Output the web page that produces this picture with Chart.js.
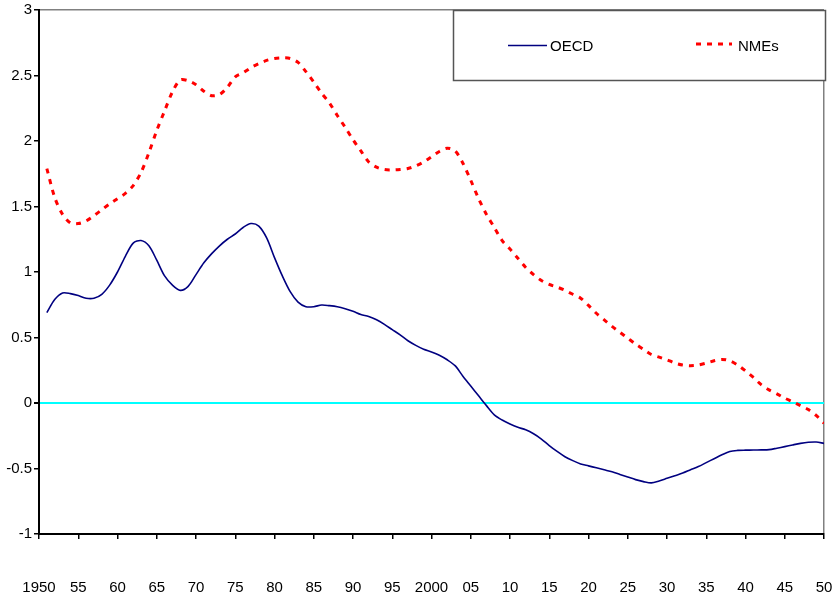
<!DOCTYPE html>
<html>
<head>
<meta charset="utf-8">
<script src="https://cdn.jsdelivr.net/npm/chart.js@4/dist/chart.umd.min.js"></script>
<style>
  html, body { margin: 0; padding: 0; background: #fff; }
  #wrap { width: 834px; height: 601px; }
</style>
</head>
<body>
<div id="wrap"><canvas id="chart" width="834" height="601"></canvas></div>
<script>
// years on the x axis
var years = [
  1951, 1952, 1953, 1954, 1955, 1956, 1957, 1958, 1959, 1960,
  1961, 1962, 1963, 1964, 1965, 1966, 1967, 1968, 1969, 1970,
  1971, 1972, 1973, 1974, 1975, 1976, 1977, 1978, 1979, 1980,
  1981, 1982, 1983, 1984, 1985, 1986, 1987, 1988, 1989, 1990,
  1991, 1992, 1993, 1994, 1995, 1996, 1997, 1998, 1999, 2000,
  2001, 2002, 2003, 2004, 2005, 2006, 2007, 2008, 2009, 2010,
  2011, 2012, 2013, 2014, 2015, 2016, 2017, 2018, 2019, 2020,
  2021, 2022, 2023, 2024, 2025, 2026, 2027, 2028, 2029, 2030,
  2031, 2032, 2033, 2034, 2035, 2036, 2037, 2038, 2039, 2040,
  2041, 2042, 2043, 2044, 2045, 2046, 2047, 2048, 2049, 2050
];

var oecdValues = [
  0.69, 0.79, 0.84, 0.835, 0.82, 0.80, 0.80, 0.83, 0.90, 1.00,
  1.12, 1.22, 1.24, 1.20, 1.09, 0.97, 0.90, 0.86, 0.89, 0.98,
  1.07, 1.14, 1.20, 1.25, 1.29, 1.34, 1.37, 1.35, 1.26, 1.11,
  0.97, 0.85, 0.77, 0.735, 0.735, 0.748, 0.743, 0.735, 0.72, 0.70,
  0.675, 0.66, 0.635, 0.60, 0.56, 0.52, 0.475, 0.44, 0.41, 0.39,
  0.365, 0.33, 0.285, 0.205, 0.13, 0.055, -0.02, -0.09, -0.13, -0.16,
  -0.185, -0.205, -0.235, -0.275, -0.325, -0.37, -0.41, -0.44, -0.465, -0.48,
  -0.495, -0.51, -0.525, -0.545, -0.565, -0.585, -0.60, -0.61, -0.595, -0.575,
  -0.555, -0.535, -0.51, -0.485, -0.455, -0.425, -0.395, -0.37, -0.362, -0.36,
  -0.359, -0.358, -0.356, -0.345, -0.333, -0.32, -0.308, -0.30, -0.298, -0.308
];

var nmeValues = [
  1.79, 1.57, 1.44, 1.375, 1.37, 1.39, 1.43, 1.475, 1.52, 1.56,
  1.60, 1.66, 1.76, 1.91, 2.08, 2.23, 2.375, 2.466, 2.46, 2.43,
  2.38, 2.346, 2.355, 2.41, 2.49, 2.52, 2.56, 2.59, 2.615, 2.63,
  2.635, 2.63, 2.60, 2.53, 2.45, 2.365, 2.29, 2.195, 2.105, 2.01,
  1.925, 1.84, 1.80, 1.782, 1.779, 1.782, 1.79, 1.81, 1.84, 1.88,
  1.92, 1.945, 1.925, 1.83, 1.70, 1.56, 1.44, 1.34, 1.24, 1.175,
  1.105, 1.035, 0.98, 0.935, 0.905, 0.885, 0.86, 0.83, 0.80, 0.745,
  0.685, 0.635, 0.585, 0.54, 0.495, 0.45, 0.41, 0.37, 0.35, 0.33,
  0.305, 0.29, 0.285, 0.29, 0.305, 0.322, 0.333, 0.322, 0.29, 0.245,
  0.195, 0.14, 0.10, 0.07, 0.037, 0.01, -0.02, -0.05, -0.095, -0.155
];

var xTickLabels = ['1950', '55', '60', '65', '70', '75', '80', '85', '90', '95',
  '2000', '05', '10', '15', '20', '25', '30', '35', '40', '45', '50'];
var yTickLabels = ['-1', '-0.5', '0', '0.5', '1', '1.5', '2', '2.5', '3'];

function toPoints(vals) {
  return years.map(function (yr, i) { return { x: yr, y: vals[i] }; });
}

var axisFont = { family: 'Liberation Sans, Arial, sans-serif', size: 15 };

// legend drawn in its own framed box, top right
var boxLegend = {
  id: 'boxLegend',
  afterDatasetsDraw: function (chart) {
    var c = chart.ctx;
    var ds = chart.data.datasets;
    c.save();
    c.fillStyle = '#fff';
    c.fillRect(453, 10, 373, 71);
    c.strokeStyle = '#555';
    c.lineWidth = 1.5;
    c.strokeRect(453.5, 10.5, 372, 70);

    c.font = '15px Liberation Sans, Arial, sans-serif';
    c.fillStyle = '#000';
    c.textBaseline = 'middle';

    // OECD
    c.strokeStyle = ds[0].borderColor;
    c.lineWidth = 1.5;
    c.beginPath();
    c.moveTo(508, 45.5);
    c.lineTo(547, 45.5);
    c.stroke();
    c.fillText(ds[0].label, 550, 47);

    // NMEs
    c.strokeStyle = ds[1].borderColor;
    c.lineWidth = 3;
    c.setLineDash(ds[1].borderDash);
    c.beginPath();
    c.moveTo(696, 44);
    c.lineTo(732, 44);
    c.stroke();
    c.setLineDash([]);
    c.fillText(ds[1].label, 738, 47);
    c.restore();
  }
};

var ctx = document.getElementById('chart').getContext('2d');

var chart = new Chart(ctx, {
  type: 'line',
  data: {
    datasets: [
      {
        label: 'OECD',
        data: toPoints(oecdValues),
        borderColor: '#000080',
        borderWidth: 1.6,
        pointRadius: 0,
        tension: 0.3,
        fill: false
      },
      {
        label: 'NMEs',
        data: toPoints(nmeValues),
        borderColor: '#ff0000',
        borderWidth: 3,
        borderDash: [5, 6],
        pointRadius: 0,
        tension: 0.3,
        fill: false
      }
    ]
  },
  options: {
    responsive: false,
    animation: false,
    layout: { padding: { top: 10, right: 10, left: 0, bottom: 0 } },
    plugins: {
      legend: { display: false },
      tooltip: { enabled: false }
    },
    scales: {
      x: {
        type: 'linear',
        min: 1950,
        max: 2050,
        afterFit: function (scale) {
          scale.height = 67;
          scale.paddingLeft = 0;
          scale.paddingRight = 0;
        },
        ticks: {
          stepSize: 5,
          autoSkip: false,
          maxRotation: 0,
          padding: 40,
          color: '#000',
          font: axisFont,
          callback: function (value, index) { return xTickLabels[index]; }
        },
        grid: {
          drawOnChartArea: true,
          color: function (c) { return c.tick && c.tick.value === 2050 ? '#808080' : 'rgba(0,0,0,0)'; },
          lineWidth: 1.5,
          tickColor: '#000',
          tickLength: 5
        },
        border: { color: '#000', width: 2 }
      },
      y: {
        min: -1,
        max: 3,
        afterFit: function (scale) {
          scale.width = 39;
          scale.paddingTop = 0;
          scale.paddingBottom = 0;
        },
        ticks: {
          stepSize: 0.5,
          padding: 2,
          color: '#000',
          font: axisFont,
          callback: function (value, index) { return yTickLabels[index]; }
        },
        grid: {
          color: function (c) {
            if (!c.tick) return 'rgba(0,0,0,0)';
            if (c.tick.value === 0) return '#00ffff';
            if (c.tick.value === 3) return '#808080';
            return 'rgba(0,0,0,0)';
          },
          lineWidth: function (c) { return c.tick && c.tick.value === 0 ? 2 : 1.5; },
          tickColor: '#000',
          tickLength: 5
        },
        border: { color: '#000', width: 2 }
      }
    }
  },
  plugins: [boxLegend]
});
</script>
</body>
</html>
